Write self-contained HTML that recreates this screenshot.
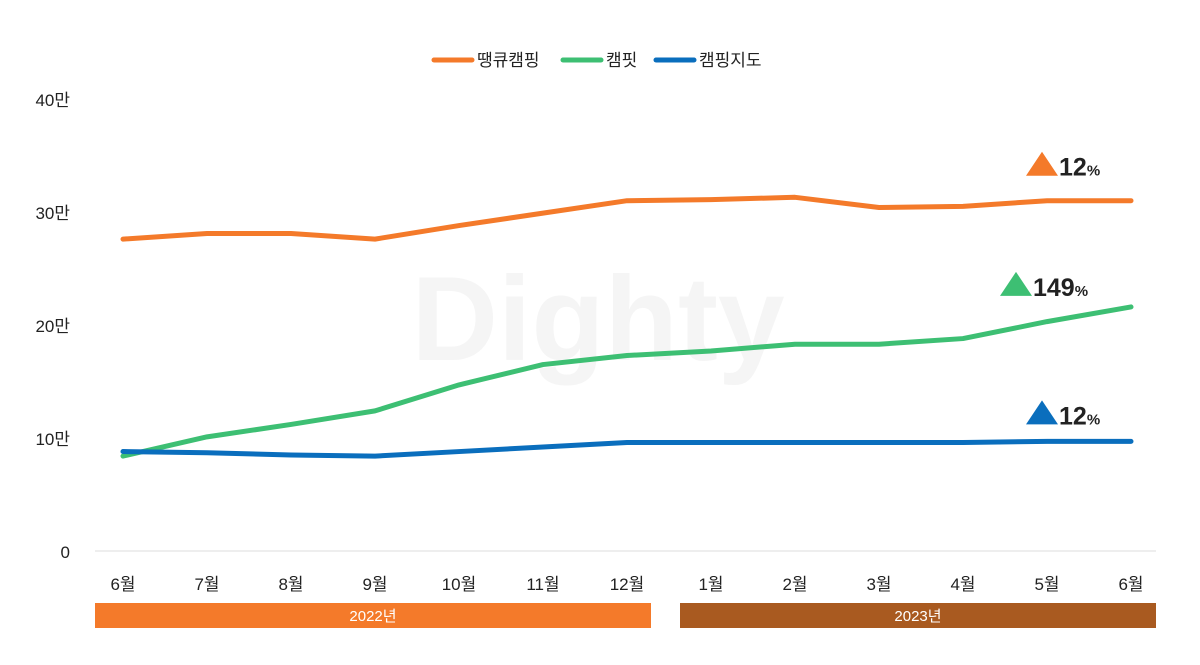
<!DOCTYPE html>
<html><head><meta charset="utf-8"><style>
body{margin:0;background:#fff;font-family:"Liberation Sans","Noto Sans CJK KR",sans-serif;}
svg text{font-family:"Liberation Sans","Noto Sans CJK KR",sans-serif;}
</style></head><body>
<svg id="chart" width="1200" height="660" viewBox="0 0 1200 660">
<text x="598" y="360" font-size="120" font-weight="bold" fill="#f5f5f5" text-anchor="middle">Dighty</text>
<g id="legend">
<g><line x1="434" y1="60" x2="472" y2="60" stroke="#f47a2a" stroke-width="5" stroke-linecap="round"/><text x="477" y="66" font-size="17" fill="#222">땡큐캠핑</text></g>
<g><line x1="563" y1="60" x2="601" y2="60" stroke="#3dbf73" stroke-width="5" stroke-linecap="round"/><text x="606" y="66" font-size="17" fill="#222">캠핏</text></g>
<g><line x1="656" y1="60" x2="694" y2="60" stroke="#0a6ebd" stroke-width="5" stroke-linecap="round"/><text x="699" y="66" font-size="17" fill="#222">캠핑지도</text></g>
</g>
<line x1="95" y1="551" x2="1156" y2="551" stroke="#ddd" stroke-width="1"/>
<g id="yticks"></g><g id="xticks"></g><g id="series"></g><g id="annot"></g>
<rect x="95" y="603" width="556" height="25" fill="#f47a2a"/>
<text x="373" y="621" font-size="15" fill="#fff" text-anchor="middle">2022년</text>
<rect x="680" y="603" width="476" height="25" fill="#a95a20"/>
<text x="918" y="621" font-size="15" fill="#fff" text-anchor="middle">2023년</text>
</svg>
<script>
const categories=["6월","7월","8월","9월","10월","11월","12월","1월","2월","3월","4월","5월","6월"];
const ttangkyu=[27.6,28.1,28.1,27.6,28.8,29.9,31.0,31.1,31.3,30.4,30.5,31.0,31.0];
const campit=[8.4,10.1,11.2,12.4,14.7,16.5,17.3,17.7,18.3,18.3,18.8,20.3,21.6];
const campingmap=[8.8,8.7,8.5,8.4,8.8,9.2,9.6,9.6,9.6,9.6,9.6,9.7,9.7];
const yTicks=[0,10,20,30,40];
const yTickLabels=["0","10만","20만","30만","40만"];
const growthLabels=["12","149","12"];
const NS="http://www.w3.org/2000/svg";
const xs=i=>123+i*84;
const ys=v=>551-v*11.3;
const offY=[-25,-11,-17];
const annX=[1057,1031,1057];
function mk(t,a,p){const e=document.createElementNS(NS,t);for(const k in a)e.setAttribute(k,a[k]);p.appendChild(e);return e;}
const yt=document.getElementById('yticks');
yTicks.forEach((v,i)=>{const t=mk('text',{x:70,y:ys(v)+7,'font-size':17,fill:'#222','text-anchor':'end'},yt);t.textContent=yTickLabels[i];

});
const xt=document.getElementById('xticks');
categories.forEach((c,i)=>{const t=mk('text',{x:xs(i),y:590,'font-size':17,fill:'#222','text-anchor':'middle'},xt);t.textContent=c;

});
const sg=document.getElementById('series');
const ser=[[ttangkyu,'#f47a2a','line-ttangkyu'],[campit,'#3dbf73','line-campit'],[campingmap,'#0a6ebd','line-campingmap']];
const ag=document.getElementById('annot');
ser.forEach((s,k)=>{const p=mk('polyline',{points:s[0].map((v,i)=>xs(i)+','+ys(v)).join(' '),fill:'none',stroke:s[1],'stroke-width':5,'stroke-linejoin':'round','stroke-linecap':'round'},sg);


const last=s[0][s[0].length-1];const by=ys(last)+offY[k];
const lab=growthLabels[k];
const tx=annX[k];
const tri=mk('polygon',{points:`${tx-31},${by} ${tx-15},${by-24} ${tx+1},${by}`,fill:s[1]},ag);


const t=mk('text',{x:tx+2,y:by,'font-size':25,'font-weight':'bold',fill:'#222'},ag);t.textContent=lab;
const ps=mk('tspan',{'font-size':15},t);ps.textContent='%';


});
</script>
</body></html>
